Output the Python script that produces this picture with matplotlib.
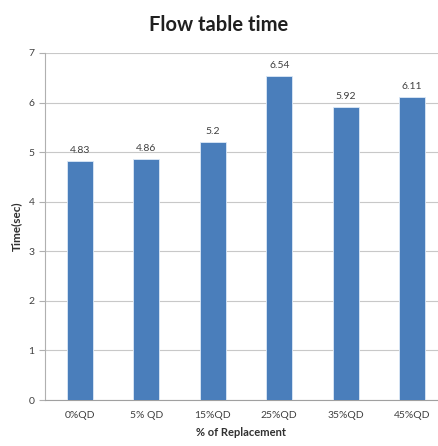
import matplotlib
matplotlib.use("Agg")
import matplotlib.pyplot as plt

# Data
categories = ["0%QD", "5% QD", "15%QD", "25%QD", "35%QD", "45%QD"]
times = [4.83, 4.86, 5.2, 6.54, 5.92, 6.11]
labels = ["4.83", "4.86", "5.2", "6.54", "5.92", "6.11"]
yticks = [0, 1, 2, 3, 4, 5, 6, 7]

plt.rcParams["font.family"] = ["Lato", "DejaVu Sans"]

fig = plt.figure(figsize=(4.38, 4.46), dpi=100)
ax = fig.add_axes([45 / 438, 46 / 446, 1 - 45 / 438, 347 / 446])

x = range(len(categories))
ax.bar(x, times, width=0.39, color="#4a7ebb", edgecolor="#dce9f7", linewidth=0.6, zorder=3)

for i, (v, s) in enumerate(zip(times, labels)):
    ax.text(i, v + 0.12, s, ha="center", va="bottom", fontsize=7.5, color="#404040")

ax.set_xlim(-0.527, 5.39)
ax.set_ylim(0, 7)
ax.set_yticks(yticks)
ax.set_xticks(list(x))
ax.set_xticklabels(categories, fontsize=7.5, color="#404040")
ax.tick_params(axis="y", labelsize=7.5, labelcolor="#404040", length=4, color="#b0b0b0", width=0.8)
ax.tick_params(axis="x", length=0, pad=8)
ax.grid(axis="y", color="#c8c8c8", linewidth=0.8, zorder=0)

for side in ["top", "right"]:
    ax.spines[side].set_visible(False)
ax.spines["left"].set_color("#b0b0b0")
ax.spines["bottom"].set_color("#a0a0a0")

ax.set_ylabel("Time(sec)", fontsize=8.5, fontweight="bold", color="#303030", labelpad=5)
ax.set_xlabel("% of Replacement", fontsize=8, fontweight="bold", color="#303030", labelpad=5)
fig.text(0.5, 0.945, "Flow table time", ha="center", va="center",
         fontsize=14.5, fontweight="bold", color="#202020")

fig.savefig("out.png", dpi=100)
